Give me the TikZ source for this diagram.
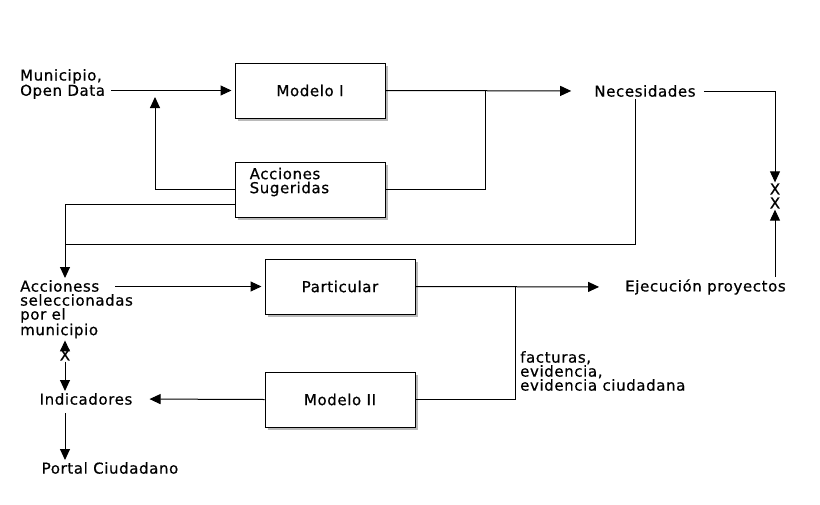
\documentclass[tikz,border=0pt]{standalone}
\usepackage{fontspec}
\setmainfont{DejaVu Sans}[LetterSpace=4, FakeBold=0.6]
\usetikzlibrary{arrows.meta, positioning, calc, shadows}

\begin{document}
\begin{tikzpicture}[x=1pt, y=-1pt, font=\fontsize{15}{14}\selectfont,
    box/.style={rectangle, draw=black, line width=1pt, fill=white,
      minimum width=150pt, minimum height=55pt,
      drop shadow={shadow xshift=3pt, shadow yshift=-3pt, fill=black!45, opacity=0.6}},
    txt/.style={align=left, inner sep=2pt},
    conn/.style={-{Triangle[length=11pt, width=10pt]}, line width=1pt},
    wire/.style={line width=1pt}]

    \useasboundingbox[fill=white] (0,0) rectangle (820,504);

    % Boxes
    \node (mod1) [box] at (310,90.5) {Modelo I};
    \node (acc) [box, below=43pt of mod1] {};
    \node (acctxt) [txt, anchor=west] at ($(acc.west)+(13,-7.5)$) {Acciones\\Sugeridas};
    \node (part) [box] at (340,286.5) {Particular};
    \node (mod2) [box, below=57pt of part] {Modelo II};

    % Texts
    \node (muni) [txt, anchor=west] at (18,84) {Municipio,\\Open Data};
    \node (nec) [txt] at (645,91) {Necesidades};
    \node (xx) [txt, align=center, inner sep=1pt] at (775,196) {X\\X};
    \node (accsel) [txt, anchor=north west] at (18,278)
      {Accioness\\seleccionadas\\por el\\municipio};
    \node (ejec) [txt] at (705.5,287) {Ejecución proyectos};
    \node (fact) [txt, anchor=north west] at (518,349)
      {facturas,\\evidencia,\\evidencia ciudadana};
    \node (xl) [txt, inner sep=1pt] at (65,355) {X};
    \node (ind) [txt] at (86,399) {Indicadores};
    \node (portal) [txt] at (110,468) {Portal Ciudadano};

    % Junctions
    \coordinate (j1) at ($(mod1.east)+(100,0)$);
    \coordinate (j2) at (65,244);
    \coordinate (j3) at ($(part.east)+(100,0)$);
    \coordinate (up) at (155,97);

    % Connections
    \draw[conn, shorten >=3pt] ($(muni.east |- mod1.west)+(4,0)$) -- (mod1.west);
    \draw[conn] (acc.west) -| (up);
    \draw[conn] ([yshift=-15pt]acc.west) -| (accsel.north -| xl);
    \draw[conn, shorten >=21pt] (mod1.east) -- (nec.west);
    \draw[wire] (acc.east) -| (j1);
    \draw[conn] ($(nec.east)+(6,0)$) -| (xx.north);
    \draw[wire] ([xshift=-10pt]nec.south) |- (j2);

    \draw[conn, shorten >=3pt] ($(accsel.north west |- part.west)+(97,0)$) -- (part.west);
    \draw[conn, shorten >=24pt] (part.east) -- (ejec.west);
    \draw[wire] (j3) |- (mod2.east);
    \draw[conn] (ejec.north -| xx) -- (xx.south);
    \draw[conn, shorten >=15pt] (mod2.west) -- (ind.east);

    \draw[conn] (xl.north) -- (accsel.south -| xl);
    \draw[conn] (xl.south) -- (ind.north -| xl);
    \draw[conn] ($(ind.south -| xl)+(0,6)$) -- (portal.north -| xl);
\end{tikzpicture}
\end{document}
